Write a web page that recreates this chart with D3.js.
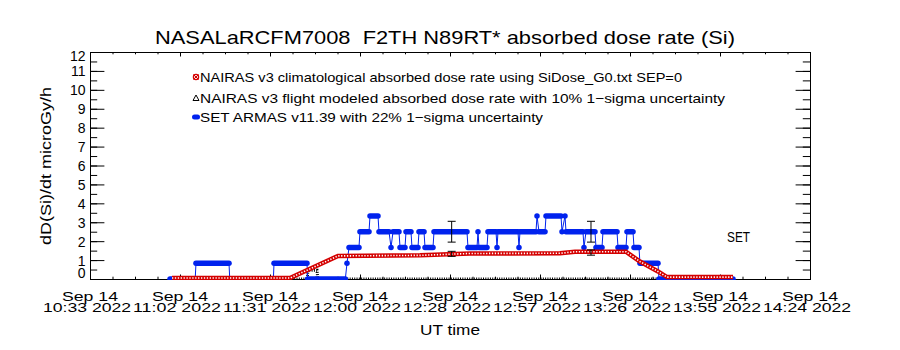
<!DOCTYPE html>
<html><head><meta charset="utf-8">
<script src="https://cdn.jsdelivr.net/npm/d3@7"></script>
<style>body{margin:0;background:#fff} text{font-family:"Liberation Sans",Arial,sans-serif;fill:#000}</style>
</head><body><svg id="c" width="900" height="350"></svg>
<script>
// ---------------- data ----------------
const titleText = "NASALaRCFM7008\u00a0\u00a0F2TH N89RT* absorbed dose rate (Si)";
const yLabelText = "dD(Si)/dt microGy/h";
const xLabelText = "UT time";
const legendLabels = [
  "NAIRAS v3 climatological absorbed dose rate using SiDose_G0.txt SEP=0",
  "NAIRAS v3 flight modeled absorbed dose rate with 10% 1\u2212sigma uncertainty",
  "SET ARMAS v11.39 with 22% 1\u2212sigma uncertainty"
];
const flightDate = "2022-09-14";
const xDomain = ["10:33:25", "14:24:25"];
const xTickDateLabel = "Sep 14";
const xTickTimeLabels = ["10:33","11:02","11:31","12:00","12:28","12:57","13:26","13:55","14:24"];
const xTickYearLabel = "2022";
const yTickValues = [0,1,2,3,4,5,6,7,8,9,10,11,12];
const setLabel = "SET";

// SET ARMAS: runs of constant dose rate [start, end, value]
const setRuns = [
  ["10:59:05","11:07:10",0],
  ["11:07:25","11:18:01",0.83],
  ["11:18:15","11:32:15",0],
  ["11:32:27","11:43:02",0.83],
  ["11:43:15","11:55:20",0],
  ["11:55:52","11:55:52",0.83],
  ["11:56:31","11:59:43",1.67],
  ["12:00:02","12:02:56",2.5],
  ["12:03:15","12:05:49",3.33],
  ["12:06:08","12:09:21",2.5],
  ["12:10:00","12:10:00",1.67],
  ["12:10:38","12:12:33",2.5],
  ["12:12:53","12:14:29",1.67],
  ["12:14:48","12:16:24",2.5],
  ["12:16:43","12:18:39",1.67],
  ["12:18:58","12:20:35",2.5],
  ["12:20:54","12:23:28",1.67],
  ["12:23:47","12:34:22",2.5],
  ["12:34:41","12:37:35",1.67],
  ["12:37:54","12:37:54",2.5],
  ["12:38:13","12:40:47",1.67],
  ["12:41:06","12:43:41",2.5],
  ["12:44:00","12:44:00",1.67],
  ["12:44:19","12:50:44",2.5],
  ["12:51:03","12:51:03",1.67],
  ["12:51:22","12:56:30",2.5],
  ["12:56:50","12:56:50",3.33],
  ["12:57:28","12:59:24",2.5],
  ["12:59:43","13:04:32",3.33],
  ["13:04:51","13:04:51",2.5],
  ["13:05:49","13:05:49",3.33],
  ["13:06:08","13:11:35",2.5],
  ["13:11:54","13:11:54",1.67],
  ["13:12:33","13:15:26",2.5],
  ["13:15:45","13:17:41",1.67],
  ["13:18:00","13:22:30",2.5],
  ["13:22:49","13:25:23",1.67],
  ["13:25:42","13:27:38",2.5],
  ["13:27:57","13:29:33",1.67],
  ["13:29:52","13:35:39",0.83],
  ["13:35:58","13:59:43",0]
];
// NAIRAS climatological: [time, value]
const nairasClim = [
  ["10:59:43",0.05],["11:37:35",0.05],["11:52:59",1.22],["12:19:18",1.25],
  ["12:35:20",1.35],["13:04:12",1.36],["13:09:01",1.44],["13:25:23",1.44],
  ["13:29:52",0.92],["13:35:39",0.40],["13:38:32",0.10],["13:59:43",0.10]
];
// NAIRAS flight modeled: [time, value]
const nairasFlight = [
  ["10:59:05",0],["11:43:05",0],["11:43:21",0.46],["11:46:15",0.46],["11:46:30",0],["13:59:43",0]
];
// error bars: [time, center, relative sigma]
const setErr = [["12:29:27",2.5,0.22],["13:14:09",2.5,0.22]];
const flightErr = [["12:29:27",1.33,0.10],["13:14:09",1.40,0.10]];

// ---------------- chart ----------------
const P = {l:90, r:810, t:52, b:279};
const parseT = d3.utcParse("%Y-%m-%d %H:%M:%S");
const T = s => parseT(flightDate + " " + s);
const svg = d3.select("#c");
const x = d3.scaleUtc().domain(xDomain.map(T)).range([P.l, P.r]);
const y = d3.scaleLinear().domain([0,12]).range([P.b, P.t]);
const [d0,d1] = x.domain();
const majorX = d3.range(9).map(i => new Date(+d0 + i*(d1-d0)/8));
const minorX = d3.range(33).map(i => new Date(+d0 + i*(d1-d0)/32));
const minorY = d3.range(0,12.01,0.5);
const BLUE = "#0022ee", RED = "#d40000";

svg.append("defs").append("clipPath").attr("id","clip")
  .append("rect").attr("x",P.l).attr("y",P.t).attr("width",P.r-P.l+1).attr("height",P.b-P.t+1);

function ax(axis, tr){
  svg.append("g").attr("transform",tr).call(axis)
    .call(g=>{g.select(".domain").remove(); g.selectAll("text").remove(); g.selectAll("line").attr("stroke","#000");});
}
ax(d3.axisBottom(x).tickValues(minorX).tickSize(-2.3), `translate(0,${P.b})`);
ax(d3.axisBottom(x).tickValues(majorX).tickSize(-4.5), `translate(0,${P.b})`);
ax(d3.axisTop(x).tickValues(minorX).tickSize(-2.3), `translate(0,${P.t})`);
ax(d3.axisTop(x).tickValues(majorX).tickSize(-4.5), `translate(0,${P.t})`);
ax(d3.axisLeft(y).tickValues(minorY).tickSize(-7.2), `translate(${P.l},0)`);
ax(d3.axisLeft(y).tickValues(yTickValues).tickSize(-14.4), `translate(${P.l},0)`);
ax(d3.axisRight(y).tickValues(minorY).tickSize(-7.2), `translate(${P.r},0)`);
ax(d3.axisRight(y).tickValues(yTickValues).tickSize(-14.4), `translate(${P.r},0)`);

svg.append("rect").attr("x",P.l+0.5).attr("y",P.t+0.5).attr("width",P.r-P.l).attr("height",P.b-P.t)
  .attr("fill","none").attr("stroke","#000");

// y tick labels
svg.append("g").selectAll("text").data(yTickValues).join("text")
  .attr("x",85.5).attr("text-anchor","end").attr("font-size",14)
  .attr("y",v => v===12 ? 61 : v===0 ? 278 : y(v)+5.5)
  .text(v => v);

// x tick labels
const xl = svg.append("g");
majorX.forEach((d,i)=>{
  const cx = x(d);
  xl.append("text").attr("x",cx).attr("y",301).attr("text-anchor","middle").attr("font-size",13.5)
    .attr("textLength",56).attr("lengthAdjust","spacingAndGlyphs").text(xTickDateLabel);
  xl.append("text").attr("x",cx-47).attr("y",311.5).attr("font-size",13.5)
    .attr("textLength",88).attr("lengthAdjust","spacingAndGlyphs")
    .text(xTickTimeLabels[i] + " " + xTickYearLabel);
});

// titles
svg.append("text").attr("x",155).attr("y",44).attr("font-size",19)
  .attr("textLength",580).attr("lengthAdjust","spacingAndGlyphs").text(titleText);
svg.append("text").attr("x",450).attr("y",335).attr("text-anchor","middle").attr("font-size",15)
  .attr("textLength",60).attr("lengthAdjust","spacingAndGlyphs").text(xLabelText);
svg.append("text").attr("transform","translate(51,166) rotate(-90)").attr("text-anchor","middle")
  .attr("font-size",15).attr("textLength",158).attr("lengthAdjust","spacingAndGlyphs").text(yLabelText);
svg.append("text").attr("x",727).attr("y",242).attr("font-size",14)
  .attr("textLength",23).attr("lengthAdjust","spacingAndGlyphs").text(setLabel);

// legend
const legY = [77, 98, 117], legEnd = [682, 725, 543];
legendLabels.forEach((s,i)=>{
  svg.append("text").attr("x",200).attr("y",legY[i]+4.5).attr("font-size",13)
    .attr("textLength",legEnd[i]-200).attr("lengthAdjust","spacingAndGlyphs").text(s);
});
const lg = svg.append("g");
lg.append("circle").attr("cx",196).attr("cy",legY[0]).attr("r",2.6).attr("fill","none").attr("stroke",RED).attr("stroke-width",1.3);
lg.append("path").attr("d",`M193.5,${legY[0]-2.5}L198.5,${legY[0]+2.5}M198.5,${legY[0]-2.5}L193.5,${legY[0]+2.5}`).attr("stroke",RED).attr("stroke-width",1);
lg.append("path").attr("d",`M196,${legY[1]-3}L199,${legY[1]+2.5}L193,${legY[1]+2.5}Z`).attr("fill","none").attr("stroke","#000").attr("stroke-width",1);
lg.append("line").attr("x1",194.5).attr("x2",197.5).attr("y1",legY[2]).attr("y2",legY[2]).attr("stroke",BLUE).attr("stroke-width",5).attr("stroke-linecap","round");

// series
const plot = svg.append("g").attr("clip-path","url(#clip)");
const lineXY = d3.line().x(d=>x(T(d[0]))).y(d=>y(d[1]));

// NAIRAS flight modeled (black triangles)
plot.append("path").attr("d",lineXY(nairasFlight)).attr("fill","none")
  .attr("stroke","#000").attr("stroke-width",3).attr("stroke-dasharray","1 1.3");

// SET ARMAS
const setPts = setRuns.flatMap(r => [[r[0],r[2]],[r[1],r[2]]]);
plot.append("path").attr("d",lineXY(setPts)).attr("fill","none").attr("stroke",BLUE).attr("stroke-width",1);
plot.append("g").selectAll("line").data(setRuns).join("line")
  .attr("x1",r=>x(T(r[0]))).attr("x2",r=>x(T(r[1])))
  .attr("y1",r=>y(r[2])).attr("y2",r=>y(r[2]))
  .attr("stroke",BLUE).attr("stroke-width",5.5).attr("stroke-linecap","round");

// NAIRAS climatological
plot.append("path").attr("d",lineXY(nairasClim)).attr("fill","none").attr("stroke",RED).attr("stroke-width",4.5);
plot.append("path").attr("d",lineXY(nairasClim)).attr("fill","none").attr("stroke","#fff")
  .attr("stroke-width",1.6).attr("stroke-dasharray","1.3 1.6");

// error bars
function errBars(data){
  const g = plot.append("g").attr("stroke","#000").attr("stroke-width",1);
  data.forEach(([t,c,s])=>{
    const cx = x(T(t)), lo = y(c*(1-s)), hi = y(c*(1+s));
    g.append("line").attr("x1",cx).attr("x2",cx).attr("y1",lo).attr("y2",hi);
    g.append("line").attr("x1",cx-4).attr("x2",cx+4).attr("y1",lo).attr("y2",lo);
    g.append("line").attr("x1",cx-4).attr("x2",cx+4).attr("y1",hi).attr("y2",hi);
  });
}
errBars(setErr);
errBars(flightErr);
</script></body></html>
